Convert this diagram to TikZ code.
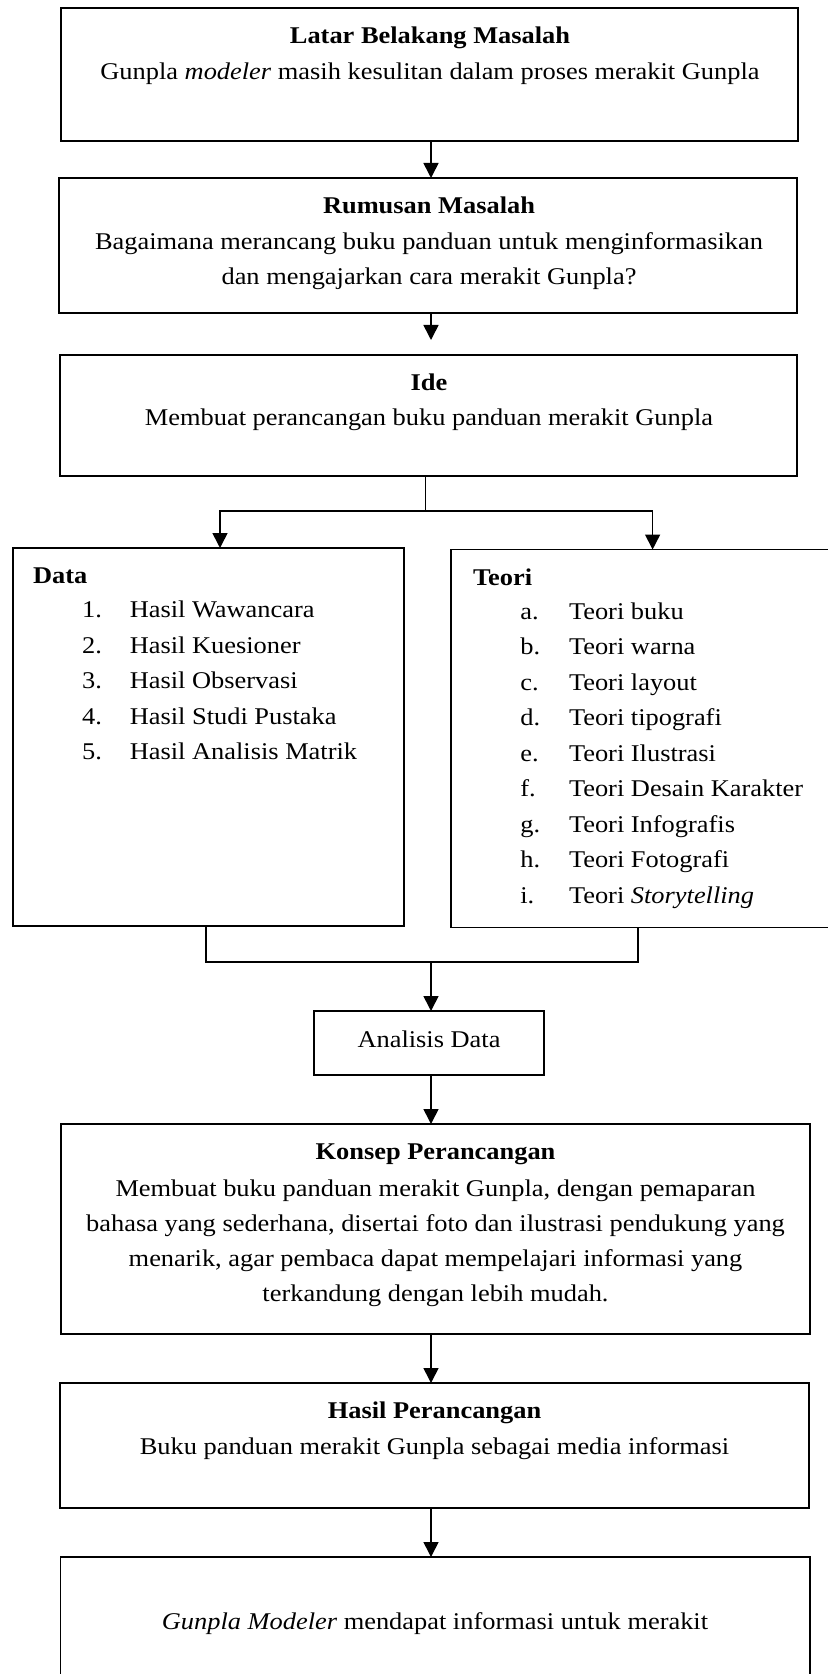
\documentclass[tikz,border=0pt]{standalone}
\usepackage{fontspec}
\usepackage{graphicx}
\setmainfont{Liberation Serif}
\usetikzlibrary{arrows.meta,calc}
\newcommand\hs[1]{\scalebox{1.1}[1]{#1}}
\newcommand\mkbox[5]{\node[box, minimum width={(#4-#2)*0.5pt}, minimum height={(#5-#3)*0.5pt}] (#1) at ({(#2+#4)/2},{(#3+#5)/2}) {};}
\tikzset{
  box/.style={draw, line width=0.8pt, rectangle, inner sep=0pt, outer sep=0pt},
  txt/.style={inner sep=0pt, anchor=base, font=\fontsize{12}{14}\selectfont},
  ltxt/.style={txt, anchor=base west},
  arr/.style={line width=0.8pt, -{Triangle[length=7.5pt,width=7.5pt]}},
  con/.style={line width=0.8pt}
}
\begin{document}
\begin{tikzpicture}[x=0.5pt,y=-0.5pt]
\useasboundingbox (0,0) rectangle (828,1674);
\fill[white] (0,0) rectangle (828,1674);
\clip (0,0) rectangle (828,1674);
% boxes
\mkbox{b1}{61}{8}{798}{141}
\mkbox{b2}{59}{178}{797}{313}
\mkbox{b3}{60}{355}{797}{476}
\mkbox{data}{13}{548}{404}{926}
\mkbox{teori}{451}{549.5}{834}{927.5}
\mkbox{an}{314}{1011}{544}{1075}
\mkbox{ko}{61}{1124}{810}{1334}
\mkbox{ha}{60}{1383}{809}{1508}
\mkbox{fi}{60.5}{1557}{810}{1690}
% texts
\node[txt] (t1a) at (430,43.7) {\hs{\textbf{Latar Belakang Masalah}}};
\node[txt] (t1b) at (430,79.4) {\hs{Gunpla \textit{modeler} masih kesulitan dalam proses merakit Gunpla}};
\node[txt] (t2a) at (429,214) {\hs{\textbf{Rumusan Masalah}}};
\node[txt] (t2b) at (429,249.5) {\hs{Bagaimana merancang buku panduan untuk menginformasikan}};
\node[txt] (t2c) at (429,285) {\hs{dan mengajarkan cara merakit Gunpla?}};
\node[txt] (t3a) at (429,390) {\hs{\textbf{Ide}}};
\node[txt] (t3b) at (429,425) {\hs{Membuat perancangan buku panduan merakit Gunpla}};
% data list
\node[ltxt] (dh) at (32.7,583.6) {\hs{\textbf{Data}}};
\foreach \n/\t [count=\k from 0] in {1./Hasil Wawancara,2./Hasil Kuesioner,3./Hasil Observasi,4./Hasil Studi Pustaka,5./Hasil Analisis Matrik}{
  \node[ltxt] (dn\k) at (81.8,{617.5+35.5*\k}) {\hs{\n}};
  \node[ltxt] (dt\k) at (129.4,{617.5+35.5*\k}) {\hs{\t}};
}
% teori list
\node[ltxt] (th) at (472.6,585) {\hs{\textbf{Teori}}};
\foreach \n/\t [count=\k from 0] in {a./Teori buku,b./Teori warna,c./Teori layout,d./Teori tipografi,e./Teori Ilustrasi,f./Teori Desain Karakter,g./Teori Infografis,h./Teori Fotografi,i./Teori \textit{Storytelling}}{
  \node[ltxt] (tn\k) at (520,{619+35.5*\k}) {\hs{\n}};
  \node[ltxt] (tt\k) at (568.6,{619+35.5*\k}) {\hs{\t}};
}
\node[txt] (ta) at (429,1047) {\hs{Analisis Data}};
\node[txt] (tka) at (435.5,1159) {\hs{\textbf{Konsep Perancangan}}};
\node[txt] (tkb) at (435.5,1196) {\hs{Membuat buku panduan merakit Gunpla, dengan pemaparan}};
\node[txt] (tkc) at (435.5,1231) {\hs{bahasa yang sederhana, disertai foto dan ilustrasi pendukung yang}};
\node[txt] (tkd) at (435.5,1266) {\hs{menarik, agar pembaca dapat mempelajari informasi yang}};
\node[txt] (tke) at (435.5,1301) {\hs{terkandung dengan lebih mudah.}};
\node[txt] (tha) at (434.5,1418) {\hs{\textbf{Hasil Perancangan}}};
\node[txt] (thb) at (434.5,1454) {\hs{Buku panduan merakit Gunpla sebagai media informasi}};
\node[txt] (tf) at (435,1629) {\hs{\textit{Gunpla Modeler} mendapat informasi untuk merakit}};
% connectors
\coordinate (ax) at (431,0);
\draw[arr] (b1.south -| ax) -- (ax |- b2.north);
\coordinate (b3tip) at (431,340);
\draw[arr] (b2.south -| b3tip) -- (b3tip);
\coordinate (j1) at (425.5,511);
\coordinate (dl) at (220,548);
\coordinate (tl) at (652.6,549.5);
\draw[con] (b3.south -| j1) -- (j1);
\draw[arr] (j1) -| (dl);
\draw[arr] (j1) -| (tl);
\coordinate (m1) at (206,962);
\coordinate (m2) at (638,962);
\coordinate (mc) at (431,962);
\draw[con] (data.south -| m1) -- (m1) -- (m2) -- (teori.south -| m2);
\draw[arr] (mc) -- (mc |- an.north);
\draw[arr] (an.south -| mc) -- (mc |- ko.north);
\draw[arr] (ko.south -| mc) -- (mc |- ha.north);
\draw[arr] (ha.south -| mc) -- (mc |- fi.north);
\end{tikzpicture}
\end{document}
